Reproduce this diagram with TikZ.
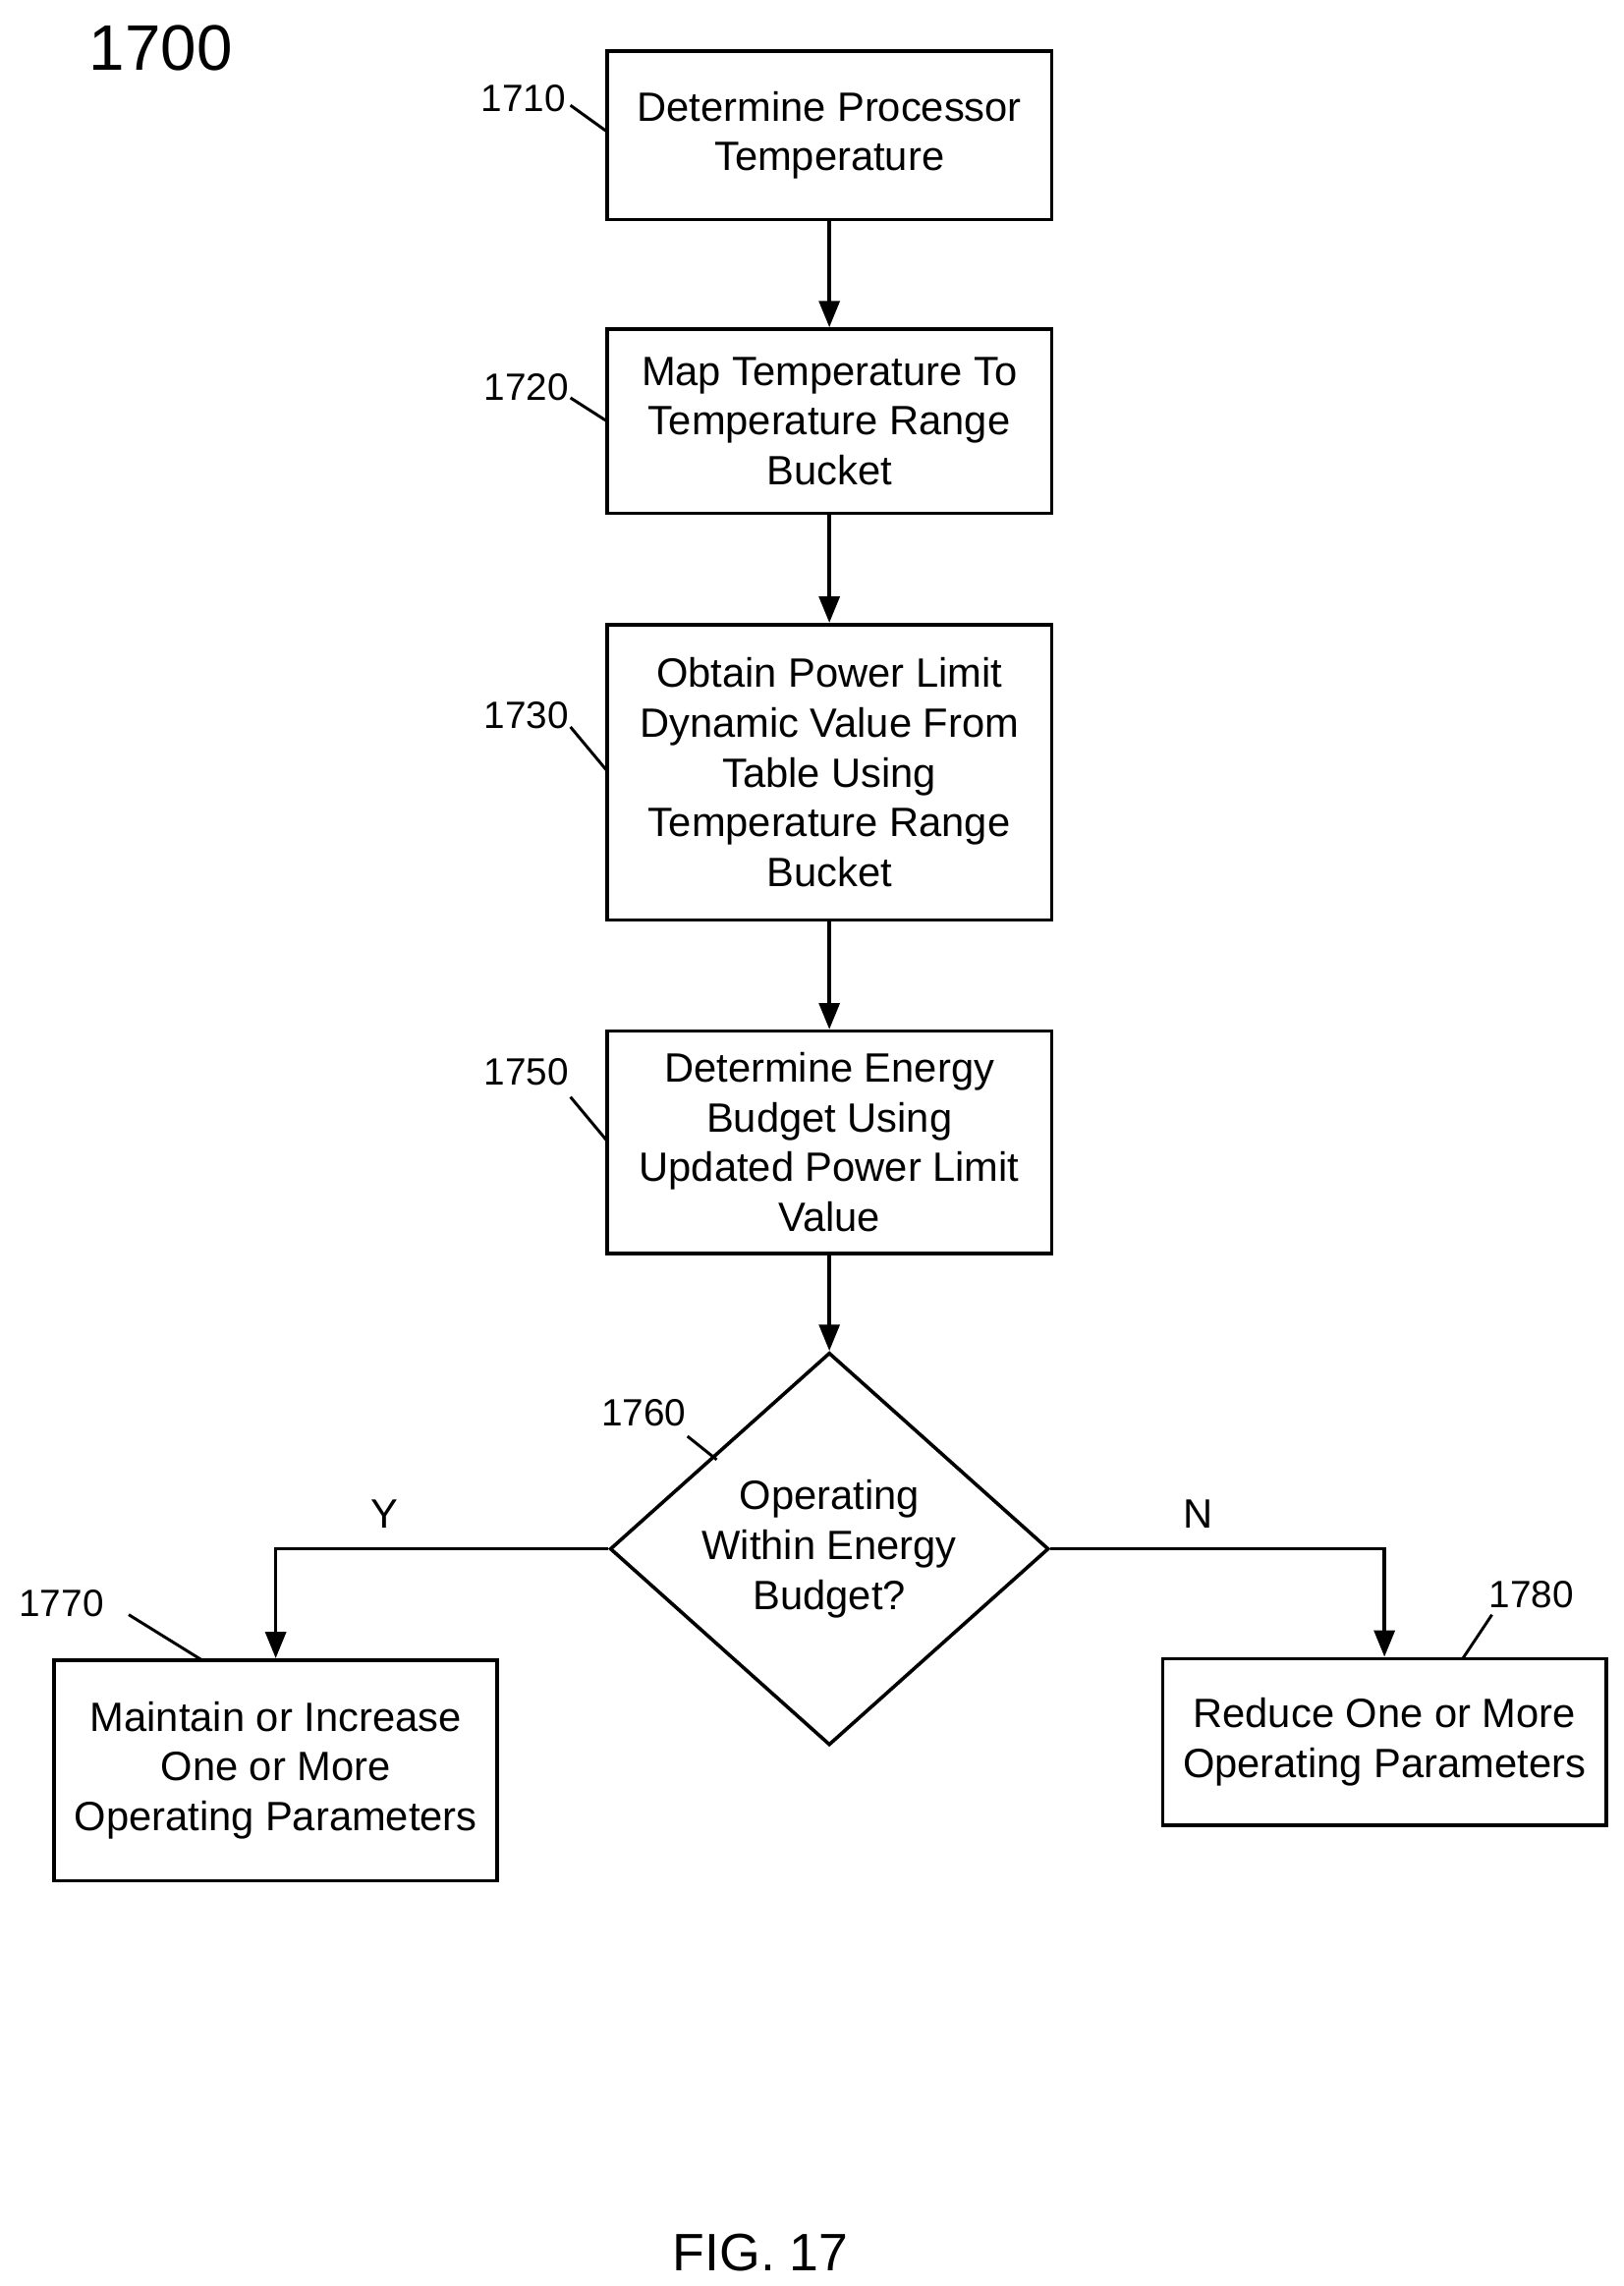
\documentclass[tikz,border=0pt]{standalone}
\usepackage{fontspec}
\setmainfont{Liberation Sans}
\usetikzlibrary{shapes.geometric,arrows.meta}
\begin{document}
\begin{tikzpicture}[x=0.5pt,y=-0.5pt,
 box/.style={draw,line width=1.2pt,inner sep=0pt,align=center,font=\fontsize{14}{17}\selectfont},
 lab/.style={font=\fontsize{13}{15}\selectfont,inner sep=0pt},
 arr/.style={line width=1.2pt,-{Triangle[length=9pt,width=7pt]}},
 ld/.style={line width=1pt}]
\useasboundingbox (0,0) rectangle (1110,1563);
\node[box,minimum width=152pt,minimum height=57.5pt] (b1) at (567,92.5) {Determine Processor\\Temperature};
\node[box,minimum width=152pt,minimum height=63pt] (b2) at (567,288) {Map Temperature To\\Temperature Range\\Bucket};
\node[box,minimum width=152pt,minimum height=101pt] (b3) at (567,528) {Obtain Power Limit\\Dynamic Value From\\Table Using\\Temperature Range\\Bucket};
\node[box,minimum width=152pt,minimum height=76pt] (b5) at (567,781) {Determine Energy\\Budget Using\\Updated Power Limit\\Value};
\node[draw,line width=1.2pt,diamond,minimum width=150pt,minimum height=126pt,inner sep=0pt,align=center,font=\fontsize{14}{17}\selectfont] (d) at (567,1059) {Operating\\Within Energy\\Budget?};
\node[box,minimum width=151.5pt,minimum height=75.5pt] (b7) at (188.5,1210.5) {Maintain or Increase\\One or More\\Operating Parameters};
\node[box,minimum width=151.5pt,minimum height=57pt] (b8) at (946.5,1191) {Reduce One or More\\Operating Parameters};
\draw[arr] (b1) -- (b2);
\draw[arr] (b2) -- (b3);
\draw[arr] (b3) -- (b5);
\draw[arr] (b5) -- (d);
\draw[arr] (d.west) -| (b7.north);
\draw[arr] (d.east) -| (b8.north);
\node[font=\fontsize{14}{17}\selectfont] (y) at (263,1035) {Y};
\node[font=\fontsize{14}{17}\selectfont] (n) at (819,1035) {N};
\node[lab] (l1) at (358,67) {1710};
\node[lab] (l2) at (360,265) {1720};
\node[lab] (l3) at (360,489) {1730};
\node[lab] (l5) at (360,733) {1750};
\node[lab] (l6) at (440,966) {1760};
\node[lab] (l7) at (42,1096) {1770};
\node[lab] (l8) at (1047,1090) {1780};
\coordinate (c1) at (415,90);\coordinate (c2) at (415,288);\coordinate (c3) at (415,527);
\coordinate (c5) at (415,780);\coordinate (c6) at (490,998);\coordinate (c7) at (138,1135);\coordinate (c8) at (1000,1134);
\draw[ld] (390,72) -- (c1);
\draw[ld] (390,272) -- (c2);
\draw[ld] (390,497) -- (c3);
\draw[ld] (390,750) -- (c5);
\draw[ld] (470,982) -- (c6);
\draw[ld] (88,1104) -- (c7);
\draw[ld] (1020,1104) -- (c8);
\node[font=\fontsize{22}{26}\selectfont] (t) at (110,33) {1700};
\node[font=\fontsize{18}{22}\selectfont] (f) at (520,1540) {FIG. 17};
\end{tikzpicture}
\end{document}
